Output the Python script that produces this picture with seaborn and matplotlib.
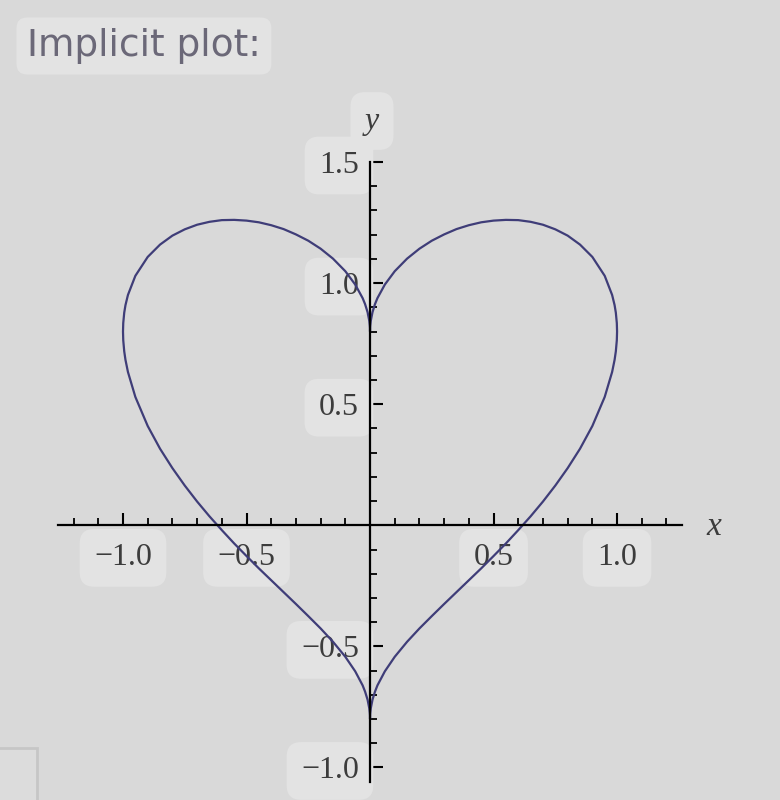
import numpy as np
import pandas as pd
import matplotlib
matplotlib.use("Agg")
import matplotlib.pyplot as plt
import seaborn as sns
from matplotlib.ticker import FixedLocator, MultipleLocator
from matplotlib.patches import Rectangle

# right half of the heart (upper arc, then lower arc back to the cusp)
x_top = [0.0, 0.0003, 0.001, 0.003, 0.01, 0.02, 0.03, 0.06, 0.1, 0.15, 0.2, 0.25, 0.3,
         0.35, 0.4, 0.45, 0.5, 0.55, 0.6, 0.65, 0.7, 0.75, 0.8, 0.85, 0.9, 0.95,
         0.98, 0.99, 0.995, 0.999, 1.0]
y_top = [0.800, 0.814, 0.825, 0.844, 0.880, 0.913, 0.938, 0.994, 1.049, 1.101, 1.142,
         1.175, 1.201, 1.223, 1.239, 1.251, 1.258, 1.261, 1.260, 1.253, 1.241, 1.222,
         1.196, 1.159, 1.108, 1.030, 0.951, 0.909, 0.878, 0.835, 0.800]
x_bottom = [0.999, 0.995, 0.99, 0.98, 0.95, 0.9, 0.85, 0.8, 0.75, 0.7, 0.65, 0.6, 0.55,
            0.5, 0.45, 0.4, 0.35, 0.3, 0.25, 0.2, 0.15, 0.1, 0.06, 0.03, 0.02, 0.01,
            0.003, 0.001, 0.0003, 0.0]
y_bottom = [0.764, 0.718, 0.683, 0.633, 0.530, 0.410, 0.316, 0.236, 0.164, 0.098, 0.037,
            -0.020, -0.075, -0.127, -0.178, -0.227, -0.276, -0.325, -0.375, -0.426,
            -0.481, -0.543, -0.603, -0.661, -0.687, -0.720, -0.756, -0.775, -0.786, -0.800]

x_ticks = [-1.0, -0.5, 0.5, 1.0]
x_labels = ["\u22121.0", "\u22120.5", "0.5", "1.0"]
y_ticks = [-1.0, -0.5, 0.5, 1.0, 1.5]
y_labels = ["\u22121.0", "\u22120.5", "0.5", "1.0", "1.5"]

bg = "#d9d9d9"
box = "#e3e3e3"
curve = "#3f3d78"

sns.set_style("white")
plt.rcParams["font.family"] = ["Liberation Serif", "DejaVu Serif"]

fig = plt.figure(figsize=(7.8, 8), dpi=100, facecolor=bg)
ax = fig.add_axes([0.0744, 0.0225, 0.80, 0.775])
ax.set_facecolor(bg)

right = pd.DataFrame({"x": x_top + x_bottom, "y": y_top + y_bottom})
left = right.assign(x=-right["x"])
for half in (right, left):
    sns.lineplot(data=half, x="x", y="y", sort=False, estimator=None,
                 color=curve, lw=1.6, ax=ax)

ax.set_xlim(-1.263, 1.263)
ax.set_ylim(-1.06, 1.5)
ax.set_xlabel("")
ax.set_ylabel("")

# axes through the origin
for s in ("top", "right"):
    ax.spines[s].set_visible(False)
for s in ("left", "bottom"):
    ax.spines[s].set_position(("data", 0))
    ax.spines[s].set_color("black")
    ax.spines[s].set_linewidth(1.6)

ax.xaxis.set_major_locator(FixedLocator(x_ticks))
ax.xaxis.set_minor_locator(MultipleLocator(0.1))
ax.yaxis.set_major_locator(FixedLocator(y_ticks))
ax.yaxis.set_minor_locator(MultipleLocator(0.1))
ax.set_xticklabels(x_labels)
ax.set_yticklabels(y_labels)

ax.tick_params(which="both", bottom=True, left=True, top=False, right=False)
ax.tick_params(which="major", direction="in", length=9, width=1.5, color="black",
               labelsize=23, labelcolor="#3c3c3c")
ax.tick_params(which="minor", direction="in", length=5, width=1.3, color="black")
ax.tick_params(axis="x", which="major", pad=13)
ax.tick_params(axis="y", which="major", pad=8)

for lab in ax.get_xticklabels() + ax.get_yticklabels():
    lab.set_bbox(dict(boxstyle="round,pad=0.45", fc=box, ec="none"))

# axis names
fig.text(372 / 780, 1 - 121 / 800, "y", fontsize=23, style="italic", color="#3c3c3c",
         ha="center", va="center",
         bbox=dict(boxstyle="round,pad=0.45", fc=box, ec="none"))
fig.text(714 / 780, 1 - 527 / 800, "x", fontsize=24, style="italic", color="#3c3c3c",
         ha="center", va="center")

# header
fig.text(27 / 780, 1 - 46 / 800, "Implicit plot:", fontsize=27, color="#6b6878",
         family="DejaVu Sans", ha="left", va="center",
         bbox=dict(boxstyle="round,pad=0.28", fc=box, ec="none"))

# little panel corner at bottom left
fig.patches.append(Rectangle((-0.01, -0.01), 0.058, 0.075, transform=fig.transFigure,
                             fc="#dcdcdc", ec="#c6c6c6", lw=2))

fig.savefig("out.png", dpi=100, facecolor=bg)
